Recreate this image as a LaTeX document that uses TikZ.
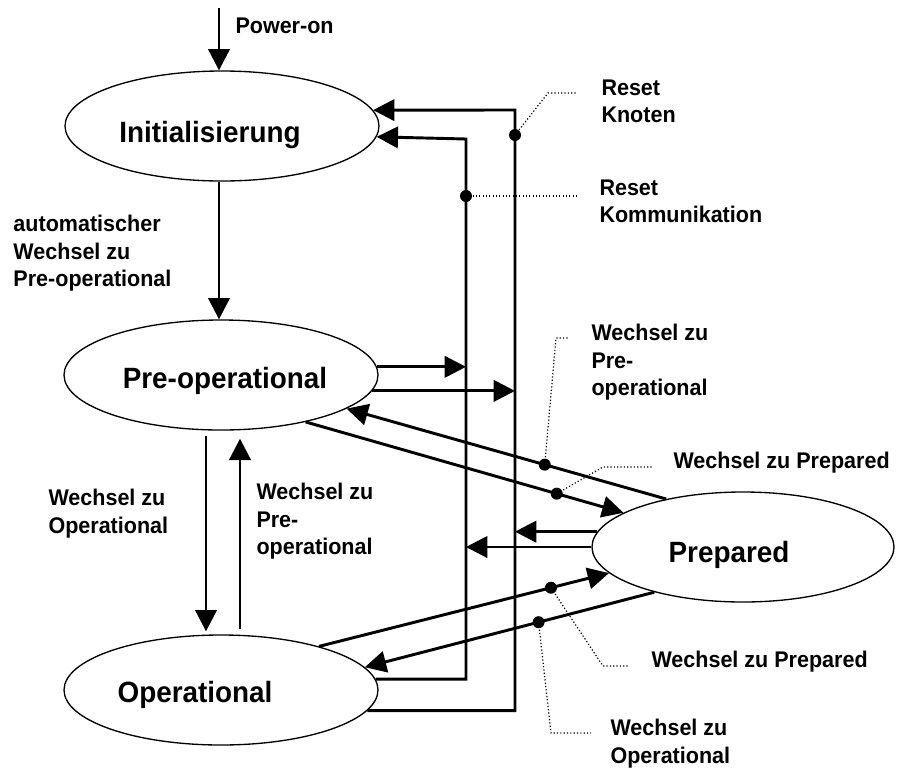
\documentclass[tikz,border=0pt]{standalone}
\usepackage{fontspec}
\setmainfont{Liberation Sans}[FakeStretch=0.95]
\usetikzlibrary{shapes.geometric,arrows.meta,calc}

\tikzset{every picture/.style={line width=0.75pt}}
\tikzset{
	zustand/.style={draw, ellipse, line width=1pt, minimum width=235.5pt, minimum height=82.5pt, inner sep=0pt},
	zname/.style={font=\fontsize{22}{26}\selectfont\bfseries, anchor=base, inner sep=0pt},
	txt/.style={font=\fontsize{17}{20.6}\selectfont\bfseries, align=left, anchor=north west, inner sep=0pt},
	pfeil/.style={line width=2.2pt, -{Triangle[length=16pt,width=16pt]}},
	bus/.style={line width=2.2pt},
	punkt/.style={circle, fill, inner sep=0pt, minimum size=9pt},
	hinweis/.style={line width=0.9pt, dash pattern={on 0.9pt off 1.6pt}},
}

\begin{document}
\begin{tikzpicture}[x=0.75pt,y=0.75pt,yscale=-1,xscale=1]
	\useasboundingbox (0,0) rectangle (897,769);

	%Shape: Ellipses
	\node[zustand] (init) at (222,126) {};
	\node[zustand] (preop) at (221,375) {};
	\node[zustand] (oper) at (221,690) {};
	\node[zustand, minimum width=226.5pt] (prep) at (743,547) {};

	% Text Node
	\node[zname] (initTxt) at (210,142) {Initialisierung};
	% Text Node
	\node[zname] (preopTxt) at (225,388) {Pre-operational};
	% Text Node
	\node[zname] (operTxt) at (195,702) {Operational};
	% Text Node
	\node[zname] (prepTxt) at (729,562) {Prepared};

	%Coordinates
	\coordinate (pwr) at (219,8);
	\coordinate (knTop) at (515,110);
	\coordinate (kmTop) at (466,139);

	%Straight Lines: Power-on, Init -> Pre-op
	\draw[pfeil] (pwr) -- (pwr |- init.north);
	\draw[pfeil] (init.south -| pwr) -- (preop.north -| pwr);

	%Straight Lines: Pre-op <-> Operational
	\draw[pfeil] ($(preop.south)+(-15,5)$) -- ($(oper.north)+(-15,-3)$);
	\draw[pfeil] ($(oper.north)+(19,-5)$) -- ($(preop.south)+(19,8)$);

	%Reset Knoten / Reset Kommunikation
	\draw[pfeil] (oper.-8.2) -| (knTop) -- (init.6.1);
	\draw[pfeil] (oper.4.9) -| (kmTop) -- (init.-4.9);
	\node[punkt] (knDot) at ($(knTop)+(0,25)$) {};
	\node[punkt] (kmDot) at ($(kmTop)+(0,57)$) {};

	%Straight Lines: into the reset lines
	\draw[pfeil] (preop.3.7) -- (preop.3.7 -| kmTop);
	\draw[pfeil] (preop.-6.1) -- (preop.-6.1 -| knTop);
	\draw[pfeil] (prep.174.1) -- (prep.174.1 -| knTop);
	\draw[pfeil] (prep.180) -- (prep.180 -| kmTop);

	%Straight Lines: Prepared <-> Pre-op / Operational
	\draw[pfeil] (prep.148.2) -- node[punkt, pos=.38] (dPre) {} (preop.-15.5);
	\draw[pfeil] (preop.-29.1) -- node[punkt, pos=.79] (dPrepA) {} (prep.164.2);
	\draw[pfeil] (oper.24.7) -- node[punkt, pos=.80] (dPrepB) {} (prep.-169.3);
	\draw[pfeil] (prep.-153.4) -- node[punkt, pos=.40] (dOper) {} (oper.9.7);

	%Dotted leaders
	\coordinate (knKnick) at (548,93);
	\coordinate (knEnd) at (577,93);
	\coordinate (kmEnd) at (576,196);
	\coordinate (preKnick) at (556,338);
	\coordinate (preEnd) at (569,338);
	\coordinate (prepAKnick) at (603,467);
	\coordinate (prepAEnd) at (652,467);
	\coordinate (prepBKnick) at (603,666);
	\coordinate (prepBEnd) at (629,666);
	\coordinate (operKnick) at (551,733);
	\coordinate (operEnd) at (591,733);
	\draw[hinweis] (knDot) -- (knKnick) -- (knEnd);
	\draw[hinweis] (kmDot) -- (kmEnd);
	\draw[hinweis] (dPre) -- (preKnick) -- (preEnd);
	\draw[hinweis] (dPrepA) -- (prepAKnick) -- (prepAEnd);
	\draw[hinweis] (dPrepB) -- (prepBKnick) -- (prepBEnd);
	\draw[hinweis] (dOper) -- (operKnick) -- (operEnd);

	% Text Node
	\node[txt] (lPower) at (235,17) {Power-on};
	% Text Node
	\node[txt] (lAuto) at (13,215) {automatischer\\Wechsel zu\\Pre-operational};
	% Text Node
	\node[txt] (lOperL) at (48,489) {Wechsel zu\\Operational};
	% Text Node
	\node[txt] (lPreM) at (256,483) {Wechsel zu\\Pre-\\operational};
	% Text Node
	\node[txt] (lKn) at (601,79) {Reset\\Knoten};
	% Text Node
	\node[txt] (lKm) at (599,179) {Reset\\Kommunikation};
	% Text Node
	\node[txt] (lPreR) at (591,324) {Wechsel zu\\Pre-\\operational};
	% Text Node
	\node[txt] (lPrepA) at (673,452) {Wechsel zu Prepared};
	% Text Node
	\node[txt] (lPrepB) at (651,651) {Wechsel zu Prepared};
	% Text Node
	\node[txt] (lOperR) at (610,719) {Wechsel zu\\Operational};

\end{tikzpicture}
\end{document}
